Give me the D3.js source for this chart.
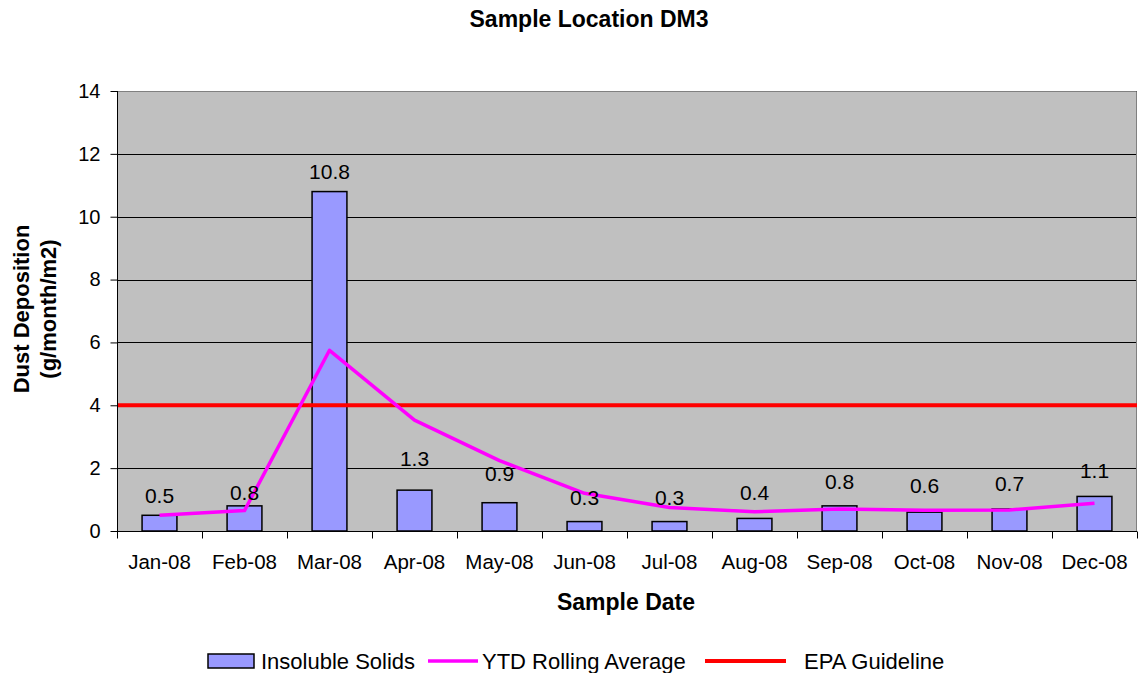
<!DOCTYPE html>
<html>
<head>
<meta charset="utf-8">
<script src="https://cdn.jsdelivr.net/npm/d3@7"></script>
<style>
  html, body { margin: 0; padding: 0; background: #fff; }
  svg { display: block; font-family: "Liberation Sans", Arial, Helvetica, sans-serif; }
</style>
</head>
<body>
<svg id="chart" width="1140" height="673"></svg>
<script>
// Monthly dust deposition at sample location DM3 (g/month/m2)
const months = ["Jan-08", "Feb-08", "Mar-08", "Apr-08", "May-08", "Jun-08",
                "Jul-08", "Aug-08", "Sep-08", "Oct-08", "Nov-08", "Dec-08"];
const insolubleSolids = [0.5, 0.8, 10.8, 1.3, 0.9, 0.3, 0.3, 0.4, 0.8, 0.6, 0.7, 1.1];
const ytdRollingAverage = [0.5, 0.65, 5.75, 3.53, 2.24, 1.2, 0.75, 0.61, 0.7, 0.66, 0.67, 0.88];
const epaGuideline = 4;
const yTicks = [0, 2, 4, 6, 8, 10, 12, 14];

const svg = d3.select("#chart");
const plot = { left: 117, right: 1137, top: 91, bottom: 531 };

const x = d3.scaleBand().domain(months).range([plot.left, plot.right]).padding(0);
const y = d3.scaleLinear().domain([0, 14]).range([plot.bottom, plot.top]);
const cx = i => x(months[i]) + x.bandwidth() / 2;

// plot background
svg.append("rect")
  .attr("x", plot.left).attr("y", plot.top)
  .attr("width", plot.right - plot.left).attr("height", plot.bottom - plot.top)
  .attr("fill", "#c0c0c0");

// horizontal gridlines
svg.append("g").selectAll("line").data(yTicks.filter(d => d > 0)).join("line")
  .attr("x1", plot.left).attr("x2", plot.right)
  .attr("y1", d => Math.round(y(d)) + 0.5).attr("y2", d => Math.round(y(d)) + 0.5)
  .attr("stroke", "#000").attr("stroke-width", 1);

// plot frame (top & right)
svg.append("path")
  .attr("d", `M${plot.left},${plot.top + 0.5}H${plot.right - 0.5}V${plot.bottom}`)
  .attr("fill", "none").attr("stroke", "#808080").attr("stroke-width", 1);

// bars
const barW = x.bandwidth() * 0.41;
svg.append("g").selectAll("rect").data(insolubleSolids).join("rect")
  .attr("x", (d, i) => cx(i) - barW / 2)
  .attr("y", d => y(d))
  .attr("width", barW)
  .attr("height", d => y(0) - y(d))
  .attr("fill", "#9999ff")
  .attr("stroke", "#000").attr("stroke-width", 1.5);

// EPA guideline
svg.append("line")
  .attr("x1", plot.left).attr("x2", plot.right)
  .attr("y1", y(epaGuideline)).attr("y2", y(epaGuideline))
  .attr("stroke", "#ff0000").attr("stroke-width", 4);

// YTD rolling average
const line = d3.line()
  .x((d, i) => cx(i))
  .y(d => y(d));
svg.append("path")
  .datum(ytdRollingAverage)
  .attr("d", line)
  .attr("fill", "none")
  .attr("stroke", "#ff00ff").attr("stroke-width", 3.5)
  .attr("stroke-linejoin", "round");

// data labels, each lifted clear of the bar and the average line
const labelGap = [12, 6, 13, 24, 22, 17, 17, 18, 17, 19, 18, 18];
svg.append("g").selectAll("text").data(insolubleSolids).join("text")
  .attr("x", (d, i) => cx(i))
  .attr("y", (d, i) => y(d) - labelGap[i])
  .attr("text-anchor", "middle")
  .attr("font-size", 21)
  .attr("fill", "#000")
  .text(d => d.toFixed(1));

// y axis
const yAxis = d3.axisLeft(y).tickValues(yTicks).tickSize(7).tickPadding(10).tickFormat(d3.format("d"));
const gy = svg.append("g").attr("transform", `translate(${plot.left + 0.5},0)`).call(yAxis);
gy.select(".domain").attr("stroke", "#000").attr("d", `M0,${plot.top}V${plot.bottom}`);
gy.selectAll(".tick line").attr("stroke", "#000");
gy.selectAll(".tick text").attr("font-size", 20).attr("fill", "#000")
  .attr("font-family", "Liberation Sans, Arial, sans-serif");

// x axis
const xAxis = d3.axisBottom(x).tickSize(0).tickPadding(0);
const gx = svg.append("g").attr("transform", `translate(0,${plot.bottom + 0.5})`).call(xAxis);
gx.select(".domain").attr("stroke", "#000").attr("d", `M${plot.left},0H${plot.right}`);
gx.selectAll(".tick text").attr("font-size", 20.5).attr("fill", "#000")
  .attr("font-family", "Liberation Sans, Arial, sans-serif")
  .attr("y", 37.5).attr("dy", 0);
// category boundary ticks
const bounds = months.map(m => x(m)).concat([plot.right]);
gx.append("g").selectAll("line").data(bounds).join("line")
  .attr("x1", d => Math.round(d) + 0.5).attr("x2", d => Math.round(d) + 0.5)
  .attr("y1", 0).attr("y2", 7)
  .attr("stroke", "#000");

// titles
svg.append("text")
  .attr("x", 589).attr("y", 27)
  .attr("text-anchor", "middle").attr("font-size", 23).attr("font-weight", "bold")
  .text("Sample Location DM3");

svg.append("text")
  .attr("x", 626).attr("y", 610)
  .attr("text-anchor", "middle").attr("font-size", 23).attr("font-weight", "bold")
  .text("Sample Date");

const yTitle = svg.append("text")
  .attr("transform", "translate(0,309) rotate(-90)")
  .attr("text-anchor", "middle").attr("font-size", 22).attr("font-weight", "bold");
yTitle.append("tspan").attr("x", 0).attr("y", 29).text("Dust Deposition");
yTitle.append("tspan").attr("x", 0).attr("y", 56).text("(g/month/m2)");

// legend
const legend = svg.append("g");
legend.append("rect")
  .attr("x", 208).attr("y", 654).attr("width", 46).attr("height", 14)
  .attr("fill", "#9999ff").attr("stroke", "#000").attr("stroke-width", 1.5);
legend.append("text").attr("x", 261).attr("y", 669).attr("font-size", 22).text("Insoluble Solids");
legend.append("line").attr("x1", 428).attr("x2", 478).attr("y1", 661).attr("y2", 661)
  .attr("stroke", "#ff00ff").attr("stroke-width", 3.5);
legend.append("text").attr("x", 482).attr("y", 669).attr("font-size", 22).text("YTD Rolling Average");
legend.append("line").attr("x1", 705).attr("x2", 786).attr("y1", 661).attr("y2", 661)
  .attr("stroke", "#ff0000").attr("stroke-width", 4);
legend.append("text").attr("x", 804).attr("y", 669).attr("font-size", 22).text("EPA Guideline");
</script>
</body>
</html>
